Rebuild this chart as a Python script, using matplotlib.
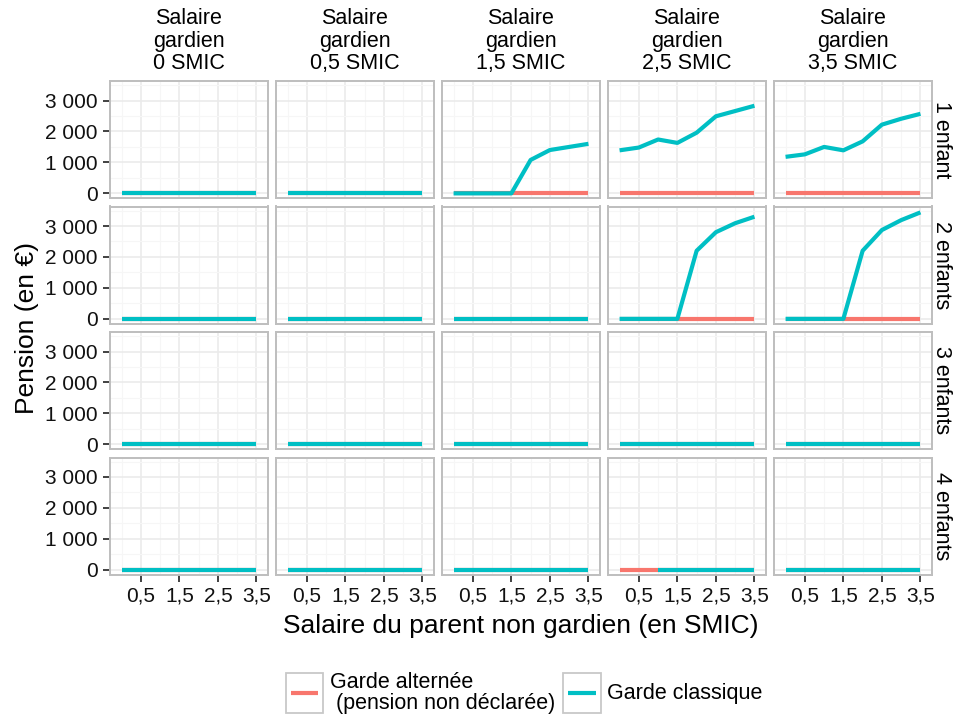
import numpy as np
import matplotlib.pyplot as plt
from matplotlib.patches import Rectangle
from matplotlib.lines import Line2D
from matplotlib.ticker import FixedLocator, FuncFormatter

plt.rcParams['font.family'] = ['Liberation Sans', 'DejaVu Sans']

W, H = 957, 715

smic_non_gardien = [0, 0.5, 1, 1.5, 2, 2.5, 3, 3.5]
salaire_gardien = ['0 SMIC', '0,5 SMIC', '1,5 SMIC', '2,5 SMIC', '3,5 SMIC']
nb_enfants = ['1 enfant', '2 enfants', '3 enfants', '4 enfants']

nan = np.nan
nul = [0, 0, 0, 0, 0, 0, 0, 0]

# garde classique : une serie par salaire du gardien
classique_1enf = [nul, nul,
                  [0, 0, 0, 0, 1080, 1400, 1500, 1600],
                  [1390, 1480, 1740, 1630, 1960, 2490, 2660, 2830],
                  [1180, 1260, 1500, 1390, 1680, 2220, 2410, 2570]]
classique_2enf = [nul, nul, nul,
                  [0, 0, 0, 0, 2200, 2800, 3090, 3300],
                  [0, 0, 0, 0, 2200, 2870, 3190, 3440]]
classique_3enf = [nul, nul, nul, nul, nul]
classique_4enf = [nul, nul, nul,
                  [nan, nan, 0, 0, 0, 0, 0, 0],
                  nul]
classique = [classique_1enf, classique_2enf, classique_3enf, classique_4enf]

# garde alternee (pension non declaree)
alternee = [nul, nul, nul, nul, nul]

ROUGE = '#F8766D'
CYAN = '#00BFC4'

fig = plt.figure(figsize=(W / 100, H / 100), dpi=100)


def fx(px):
    return px / W


def fy(py):
    return 1 - py / H


col_left = [110 + 166 * j for j in range(5)]
col_w = 158
row_top = [81 + 125.5 * i for i in range(4)]
row_h = 117

for i in range(4):
    for j in range(5):
        l, t = col_left[j], row_top[i]
        ax = fig.add_axes([fx(l), fy(t + row_h), col_w / W, row_h / H])
        ax.set_axisbelow(True)
        ax.plot(smic_non_gardien, alternee[j], color=ROUGE, lw=3,
                solid_capstyle='butt')
        ax.plot(smic_non_gardien, classique[i][j], color=CYAN, lw=3,
                solid_capstyle='butt')
        ax.set_xlim(-0.3, 3.8)
        ax.set_ylim(-150, 3630)
        ax.xaxis.set_major_locator(FixedLocator([0.5, 1.5, 2.5, 3.5]))
        ax.xaxis.set_minor_locator(FixedLocator([0, 1, 2, 3]))
        ax.yaxis.set_major_locator(FixedLocator([0, 1000, 2000, 3000]))
        ax.yaxis.set_minor_locator(FixedLocator([500, 1500, 2500, 3500]))
        ax.xaxis.set_major_formatter(
            FuncFormatter(lambda v, p: f'{v:.1f}'.replace('.', ',')))
        ax.yaxis.set_major_formatter(
            FuncFormatter(lambda v, p: f'{int(v):,}'.replace(',', ' ')))
        ax.grid(which='major', color='#EBEBEB', lw=1.2)
        ax.grid(which='minor', color='#F6F6F6', lw=0.8)
        for s in ax.spines.values():
            s.set_color('#BEBEBE')
            s.set_linewidth(1.4)
        ax.tick_params(which='minor', length=0)
        ax.tick_params(which='major', length=5, width=1.3, color='#333333',
                       labelsize=15, pad=4, labelcolor='#111111')
        ax.tick_params(axis='x', bottom=(i == 3), labelbottom=(i == 3))
        ax.tick_params(axis='y', left=(j == 0), labelleft=(j == 0))

# bandeaux des facettes
for j, lab in enumerate(salaire_gardien):
    cx = col_left[j] + col_w / 2
    fig.text(fx(cx), fy(41), 'Salaire\ngardien\n' + lab, ha='center',
             va='center', fontsize=15.5, linespacing=1.12)
for i, lab in enumerate(nb_enfants):
    cy = row_top[i] + row_h / 2
    fig.text(fx(941), fy(cy), lab, rotation=-90, ha='center', va='center',
             fontsize=15.5)

fig.text(fx(521), fy(626), 'Salaire du parent non gardien (en SMIC)',
         ha='center', va='center', fontsize=19)
fig.text(fx(27), fy(328), 'Pension (en \u20ac)', rotation=90,
         ha='center', va='center', fontsize=19)

# legende
entrees = [(286, 323, ROUGE, 330, 'Garde altern\u00e9e\n (pension non d\u00e9clar\u00e9e)'),
           (563, 601, CYAN, 607, 'Garde classique')]
for x0, x1, coul, xt, txt in entrees:
    fig.add_artist(Rectangle((fx(x0), fy(713)), (x1 - x0) / W, 40 / H,
                             transform=fig.transFigure, facecolor='white',
                             edgecolor='#C8C8C8', lw=1.3))
    fig.add_artist(Line2D([fx(x0 + 5), fx(x1 - 5)], [fy(693), fy(693)],
                          transform=fig.transFigure, color=coul, lw=3,
                          solid_capstyle='butt'))
    fig.text(fx(xt), fy(693), txt, ha='left', va='center', fontsize=15.5,
             linespacing=0.95)

fig.savefig('out.png', dpi=100)
